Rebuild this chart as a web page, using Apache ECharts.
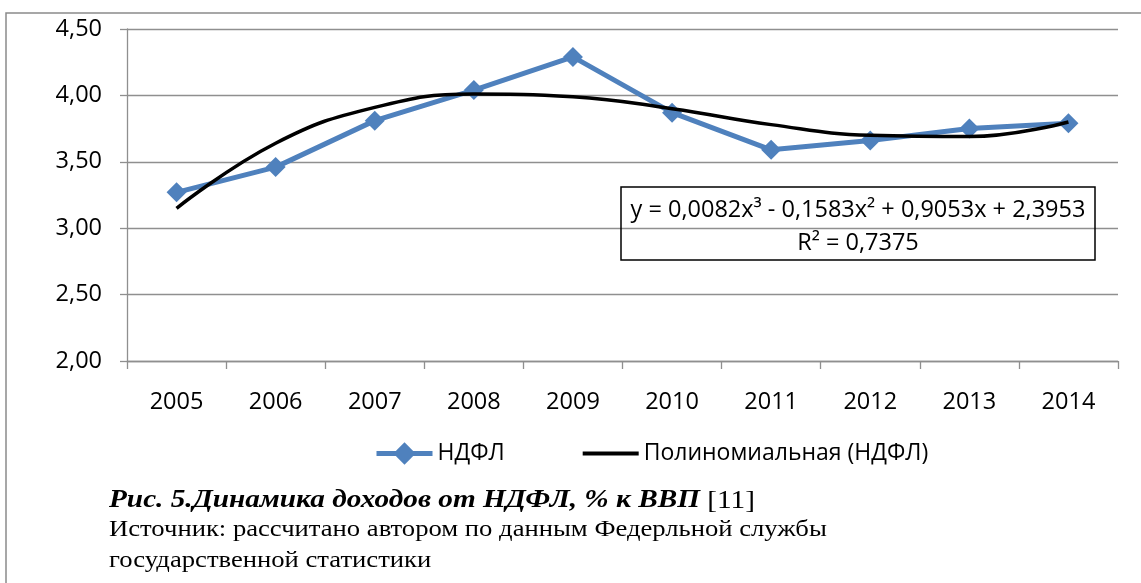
<!DOCTYPE html>
<html>
<head>
<meta charset="utf-8">
<script src="https://cdn.jsdelivr.net/npm/echarts@6/dist/echarts.min.js"></script>
<style>
html,body{margin:0;padding:0;background:#fff;}
#chart{width:1141px;height:583px;}
</style>
</head>
<body>
<div id="chart"></div>
<script>
var years = ['2005','2006','2007','2008','2009','2010','2011','2012','2013','2014'];
var ndfl = [3.27, 3.46, 3.81, 4.04, 4.29, 3.87, 3.59, 3.66, 3.75, 3.79];
var trend = [3.15, 3.64, 3.91, 4.01, 3.99, 3.90, 3.78, 3.70, 3.69, 3.80];
var yTicks = { min: 2, max: 4.5, interval: 0.5 };
var seriesNames = ['НДФЛ', 'Полиномиальная (НДФЛ)'];
var equationLines = ['y = 0,0082x³ - 0,1583x² + 0,9053x + 2,3953', 'R² = 0,7375'];
var captionBold = 'Рис. 5.Динамика доходов от НДФЛ, % к ВВП';
var captionRef = ' [11]';
var sourceLines = ['Источник: рассчитано автором по данным Федерльной службы', 'государственной статистики'];

var sans = '"Open Sans", "Noto Sans", sans-serif';
var serif = '"Liberation Serif", "DejaVu Serif", serif';
var gridColor = '#8f8f8f';
var fs = 23.5;

var chart = echarts.init(document.getElementById('chart'), null, {renderer: 'canvas'});
chart.setOption({
  animation: false,
  backgroundColor: '#ffffff',
  grid: { left: 127, right: 23, top: 29, bottom: 222, containLabel: false },
  legend: {
    left: 369, top: 437,
    itemWidth: 56, itemHeight: 28, itemGap: 76,
    textStyle: { fontFamily: sans, fontSize: 23, color: '#000' },
    data: [
      { name: seriesNames[0], lineStyle: { width: 5 } },
      { name: seriesNames[1], itemStyle: { opacity: 0 }, lineStyle: { width: 4 } }
    ]
  },
  xAxis: {
    type: 'category',
    data: years,
    boundaryGap: true,
    axisLine: { lineStyle: { color: gridColor, width: 1.3 } },
    axisTick: { show: true, length: 8, lineStyle: { color: gridColor, width: 1.3 } },
    axisLabel: { fontFamily: sans, fontSize: fs, color: '#000', margin: 29 }
  },
  yAxis: {
    type: 'value',
    min: yTicks.min, max: yTicks.max, interval: yTicks.interval,
    axisLine: { show: true, lineStyle: { color: gridColor, width: 1.3 } },
    axisTick: { show: true, length: 7, lineStyle: { color: gridColor, width: 1.3 } },
    splitLine: { show: true, lineStyle: { color: gridColor, width: 1.3 } },
    axisLabel: {
      fontFamily: sans, fontSize: fs, color: '#000', margin: 25,
      formatter: function (v) { return v.toFixed(2).replace('.', ','); }
    }
  },
  series: [
    {
      name: seriesNames[0], type: 'line', data: ndfl,
      symbol: 'diamond', symbolSize: 20,
      itemStyle: { color: '#4F81BD' },
      lineStyle: { color: '#4F81BD', width: 5 },
      z: 2
    },
    {
      name: seriesNames[1], type: 'line', data: trend,
      smooth: 0.45, symbol: 'circle', showSymbol: false,
      itemStyle: { color: '#000' },
      lineStyle: { color: '#000', width: 3.5 },
      z: 3
    }
  ],
  graphic: [
    { type: 'rect', shape: { x: 6, y: 13, width: 1300, height: 800 }, style: { fill: 'none', stroke: '#8a8a8a', lineWidth: 1.5 }, silent: true, z: -1 },
    { type: 'rect', shape: { x: 621, y: 187, width: 474, height: 73 }, style: { fill: 'none', stroke: '#000', lineWidth: 1.5 }, z: 10 },
    { type: 'text', x: 858, y: 210, style: { text: equationLines[0], fontFamily: sans, fontSize: fs, fill: '#000', align: 'center', verticalAlign: 'middle' }, z: 10 },
    { type: 'text', x: 858, y: 243, style: { text: equationLines[1], fontFamily: sans, fontSize: fs, fill: '#000', align: 'center', verticalAlign: 'middle' }, z: 10 },
    { type: 'text', x: 109, y: 501, scaleX: 1.17, style: {
        text: '{b|' + captionBold + '}{r|' + captionRef + '}',
        verticalAlign: 'middle',
        rich: {
          b: { fontFamily: serif, fontSize: 25, fontWeight: 'bold', fontStyle: 'italic', fill: '#000' },
          r: { fontFamily: serif, fontSize: 25, fill: '#000' }
        }
      }, z: 10 },
    { type: 'text', x: 109, y: 530, scaleX: 1.11, style: { text: sourceLines[0], fontFamily: serif, fontSize: 24, fill: '#000', verticalAlign: 'middle' }, z: 10 },
    { type: 'text', x: 109, y: 561, scaleX: 1.11, style: { text: sourceLines[1], fontFamily: serif, fontSize: 24, fill: '#000', verticalAlign: 'middle' }, z: 10 }
  ]
});
</script>
</body>
</html>
